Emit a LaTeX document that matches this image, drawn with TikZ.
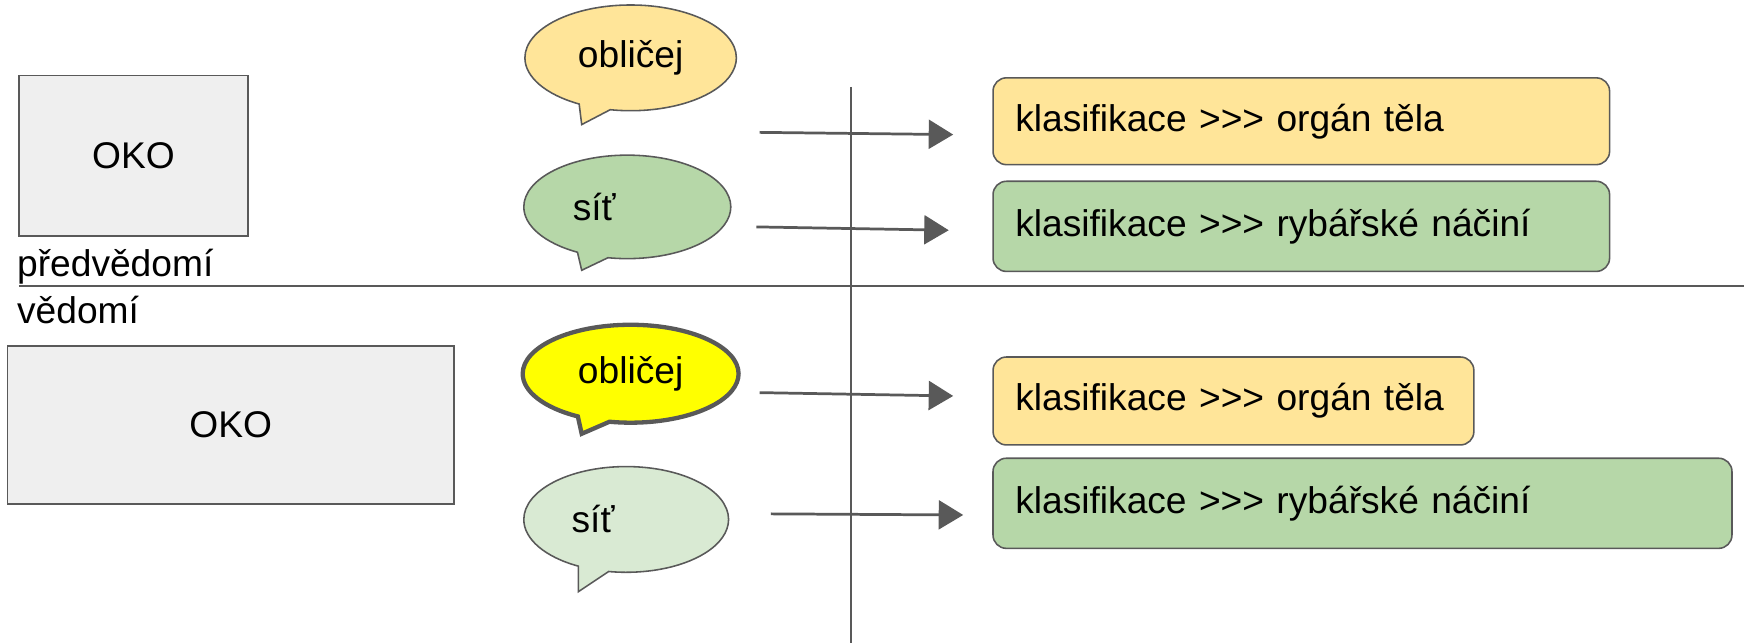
\documentclass[tikz,border=0pt]{standalone}
\usepackage{fontspec}
\setmainfont{Liberation Sans}[Ligatures=TeXOff]
\usetikzlibrary{shapes.callouts,arrows.meta}

\definecolor{sunny}{HTML}{FFE599}
\definecolor{bright}{HTML}{FFFF00}
\definecolor{leaf}{HTML}{B6D7A8}
\definecolor{paleleaf}{HTML}{D9EAD3}
\definecolor{eyegrey}{HTML}{EFEFEF}
\definecolor{darkline}{HTML}{595959}

\begin{document}
\begin{tikzpicture}[x=0.01cm, y=-0.01cm,
  >={Triangle[length=0.22cm, width=0.26cm]},
  txt/.style={font=\fontsize{9.5}{11}\selectfont},
  bubble/.style={ellipse callout, draw=darkline, txt, inner sep=0pt, callout pointer arc=18},
  eye/.style={draw=darkline, fill=eyegrey, txt},
  class/.style={draw=darkline, rounded corners=0.12cm, txt, inner xsep=0.2cm, align=left},
  link/.style={->, draw=darkline, line width=0.7pt}]
\useasboundingbox (0,0) rectangle (1568,578);

% hranice vedomi
\draw[darkline, line width=0.5pt] (17,257) -- (1568,257);
\draw[darkline, line width=0.5pt] (765,78) -- (765,578);

\node[anchor=west, txt] (predvedomi) at (3,240) {předvědomí};
\node[anchor=west, txt] (vedomi) at (3,279) {vědomí};

% predvedomi
\node[eye, minimum width=2.06cm, minimum height=1.44cm] (oko top) at (120,140) {OKO};

\node[bubble, fill=sunny, minimum width=1.9cm, minimum height=0.95cm,
  callout absolute pointer={(523,112)}] (oblicej top) at (567,52) {obličej};
\node[bubble, fill=leaf, minimum width=1.86cm, minimum height=0.93cm,
  text width=0.98cm, align=left,
  callout absolute pointer={(523,243)}] (sit top) at (564,186) {síť};

\node[class, fill=sunny, minimum width=5.54cm, minimum height=0.78cm, text width=5.14cm] (organ top) at (1170,109) {klasifikace >>> orgán těla};
\node[class, fill=leaf, minimum width=5.54cm, minimum height=0.81cm, text width=5.14cm] (nacini top) at (1170,203.5) {klasifikace >>> rybářské náčiní};

\coordinate (from oblicej top) at (683,119);
\coordinate (to organ top) at (857,121);
\coordinate (from sit top) at (680,204);
\coordinate (to nacini top) at (853,207);
\draw[link] (from oblicej top) -- (to organ top);
\draw[link] (from sit top) -- (to nacini top);

% vedomi
\node[eye, minimum width=4.01cm, minimum height=1.42cm] (oko bottom) at (207.5,382) {OKO};

\node[bubble, fill=bright, line width=1.1pt, minimum width=1.94cm, minimum height=0.88cm,
  callout absolute pointer={(523,390)}] (oblicej bottom) at (567,336) {obličej};
\node[bubble, fill=paleleaf, minimum width=1.84cm, minimum height=0.95cm,
  text width=0.98cm, align=left,
  callout absolute pointer={(520,532)}] (sit bottom) at (563,467) {síť};

\node[class, fill=sunny, minimum width=4.32cm, minimum height=0.79cm, text width=3.92cm] (organ bottom) at (1109,360.5) {klasifikace >>> orgán těla};
\node[class, fill=leaf, minimum width=6.64cm, minimum height=0.81cm, text width=6.24cm] (nacini bottom) at (1225,452.5) {klasifikace >>> rybářské náčiní};

\coordinate (from oblicej bottom) at (683,353);
\coordinate (to organ bottom) at (857,356);
\coordinate (from sit bottom) at (693,462);
\coordinate (to nacini bottom) at (866,463);
\draw[link] (from oblicej bottom) -- (to organ bottom);
\draw[link] (from sit bottom) -- (to nacini bottom);
\end{tikzpicture}
\end{document}
